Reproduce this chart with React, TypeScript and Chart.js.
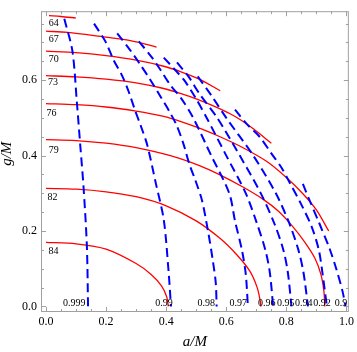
import React, { useEffect, useRef } from "react";
import { Chart, registerables } from "chart.js";

Chart.register(...registerables);

// Red solid contours: [a/M, g/M] points
const red64: number[][] = [[0.01, 0.771], [0.05, 0.769], [0.099, 0.765]];
const red67: number[][] = [[0, 0.73], [0.072, 0.727], [0.182, 0.716], [0.281, 0.705], [0.368, 0.688]];
const red70: number[][] = [[0, 0.677], [0.1, 0.673], [0.2, 0.665], [0.3, 0.653], [0.392, 0.637], [0.447, 0.623], [0.51, 0.603], [0.58, 0.572]];
const red73: number[][] = [[0, 0.612], [0.1, 0.609], [0.2, 0.603], [0.3, 0.593], [0.392, 0.578], [0.447, 0.565], [0.502, 0.55], [0.557, 0.532], [0.613, 0.511], [0.651, 0.493], [0.69, 0.471], [0.75, 0.433]];
const red76: number[][] = [[0, 0.538], [0.1, 0.535], [0.2, 0.529], [0.3, 0.518], [0.392, 0.504], [0.447, 0.491], [0.513, 0.472], [0.579, 0.45], [0.651, 0.423], [0.734, 0.385], [0.8, 0.342], [0.855, 0.299], [0.9, 0.256], [0.941, 0.2]];
const red79: number[][] = [[0, 0.4425], [0.1, 0.44], [0.2, 0.433], [0.3, 0.421], [0.414, 0.4], [0.513, 0.373], [0.579, 0.349], [0.657, 0.316], [0.723, 0.284], [0.773, 0.253], [0.82, 0.213], [0.86, 0.172], [0.895, 0.128], [0.915, 0.085], [0.925, 0.04], [0.928, 0]];
const red82: number[][] = [[0, 0.313], [0.1, 0.311], [0.2, 0.304], [0.3, 0.291], [0.4, 0.267], [0.5, 0.227], [0.58, 0.18], [0.635, 0.137], [0.679, 0.093], [0.703, 0.05], [0.713, 0.015], [0.715, 0]];
const red84: number[][] = [[0, 0.17], [0.1, 0.166], [0.2, 0.152], [0.3, 0.114], [0.35, 0.085], [0.385, 0.054], [0.402, 0.025], [0.407, 0]];

// Blue dashed contours
const blue0999: number[][] = [[0.061, 0.763], [0.088, 0.677], [0.103, 0.539], [0.114, 0.428], [0.125, 0.316], [0.136, 0.162], [0.14, 0]];
const blue099: number[][] = [[0.16, 0.75], [0.199, 0.701], [0.224, 0.655], [0.254, 0.611], [0.276, 0.568], [0.296, 0.521], [0.315, 0.48], [0.337, 0.428], [0.366, 0.325], [0.392, 0.23], [0.408, 0.093], [0.416, 0]];
const blue098: number[][] = [[0.237, 0.724], [0.28, 0.68], [0.315, 0.64], [0.348, 0.6], [0.381, 0.557], [0.41, 0.518], [0.435, 0.48], [0.458, 0.43], [0.477, 0.378], [0.497, 0.335], [0.519, 0.282], [0.541, 0.192], [0.555, 0.123], [0.565, 0.063], [0.568, 0]];
const blue097: number[][] = [[0.309, 0.703], [0.351, 0.662], [0.378, 0.631], [0.414, 0.587], [0.45, 0.552], [0.49, 0.5], [0.55, 0.4], [0.61, 0.3], [0.629, 0.227], [0.652, 0.15], [0.665, 0.085], [0.672, 0]];
const blue096: number[][] = [[0.392, 0.66], [0.43, 0.627], [0.46, 0.6], [0.5, 0.55], [0.535, 0.5], [0.6, 0.4], [0.665, 0.3], [0.7, 0.225], [0.73, 0.15], [0.745, 0.09], [0.756, 0]];
const blue095: number[][] = [[0.436, 0.647], [0.474, 0.61], [0.51, 0.565], [0.57, 0.5], [0.645, 0.4], [0.715, 0.3], [0.76, 0.22], [0.79, 0.15], [0.805, 0.09], [0.817, 0]];
const blue094: number[][] = [[0.505, 0.61], [0.55, 0.56], [0.6, 0.5], [0.69, 0.4], [0.765, 0.3], [0.81, 0.22], [0.84, 0.15], [0.857, 0.09], [0.872, 0]];
const blue092: number[][] = [[0.629, 0.522], [0.668, 0.484], [0.712, 0.449], [0.75, 0.406], [0.784, 0.368], [0.81, 0.33], [0.85, 0.27], [0.885, 0.21], [0.908, 0.15], [0.92, 0.09], [0.935, 0]];
const blue090: number[][] = [[0.855, 0.325], [0.877, 0.282], [0.91, 0.22], [0.944, 0.153], [0.966, 0.1], [0.987, 0.04], [0.997, 0]];

const redCurves = [red64, red67, red70, red73, red76, red79, red82, red84];
const blueCurves = [blue0999, blue099, blue098, blue097, blue096, blue095, blue094, blue092, blue090];

// Contour labels and their anchor points (data coordinates)
const redLabelTexts = ["64", "67", "70", "73", "76", "79", "82", "84"];
const redLabelA = [0.026, 0.026, 0.026, 0.023, 0.018, 0.026, 0.022, 0.025];
const redLabelG = [0.75, 0.709, 0.655, 0.593, 0.513, 0.415, 0.289, 0.147];
const blueLabelTexts = ["0.999", "0.99", "0.98", "0.97", "0.96", "0.95", "0.94", "0.92", "0.9"];
const blueLabelA = [0.094, 0.393, 0.533, 0.64, 0.735, 0.798, 0.858, 0.919, 0.982];
const blueLabelG = [0.009, 0.009, 0.009, 0.009, 0.009, 0.009, 0.009, 0.009, 0.009];

// Axis ranges, tick values, titles
const xRange = [-0.0166, 1.008];
const yRange = [-0.0147, 0.783];
const xMajor = [0, 0.2, 0.4, 0.6, 0.8, 1.0];
const yMajor = [0, 0.2, 0.4, 0.6];
const xMinor = [0.05, 0.1, 0.15, 0.25, 0.3, 0.35, 0.45, 0.5, 0.55, 0.65, 0.7, 0.75, 0.85, 0.9, 0.95];
const yMinor = [0.05, 0.1, 0.15, 0.25, 0.3, 0.35, 0.45, 0.5, 0.55, 0.65, 0.7, 0.75];
const xTitle = "a/M";
const yTitle = "g/M";
const yTitleAt = 0.405;

const SERIF = '"Liberation Serif", "DejaVu Serif", serif';

const framePlugin = {
  id: "framePlugin",
  afterDatasetsDraw(chart: any) {
    const { ctx, chartArea: ca } = chart;
    const xs = chart.scales.x;
    const ys = chart.scales.y;
    ctx.save();
    // contour labels
    ctx.fillStyle = "#000";
    ctx.font = `10px ${SERIF}`;
    ctx.textAlign = "center";
    ctx.textBaseline = "middle";
    redLabelTexts.forEach((t, i) => {
      ctx.fillText(t, xs.getPixelForValue(redLabelA[i]), ys.getPixelForValue(redLabelG[i]));
    });
    blueLabelTexts.forEach((t, i) => {
      ctx.fillText(t, xs.getPixelForValue(blueLabelA[i]), ys.getPixelForValue(blueLabelG[i]));
    });
    // y axis title
    ctx.save();
    ctx.font = `italic 15px ${SERIF}`;
    ctx.translate(7.5, ys.getPixelForValue(yTitleAt));
    ctx.rotate(-Math.PI / 2);
    ctx.fillText(yTitle, 0, 0);
    ctx.restore();
    // frame
    ctx.strokeStyle = "#a0a0a0";
    ctx.lineWidth = 1;
    ctx.strokeRect(ca.left + 0.5, ca.top + 0.5, ca.right - ca.left - 1, ca.bottom - ca.top - 1);
    const tickX = (v: number, len: number) => {
      const p = Math.round(xs.getPixelForValue(v)) + 0.5;
      ctx.beginPath();
      ctx.moveTo(p, ca.bottom);
      ctx.lineTo(p, ca.bottom - len);
      ctx.moveTo(p, ca.top);
      ctx.lineTo(p, ca.top + len);
      ctx.stroke();
    };
    const tickY = (v: number, len: number) => {
      const p = Math.round(ys.getPixelForValue(v)) + 0.5;
      ctx.beginPath();
      ctx.moveTo(ca.left, p);
      ctx.lineTo(ca.left + len, p);
      ctx.moveTo(ca.right, p);
      ctx.lineTo(ca.right - len, p);
      ctx.stroke();
    };
    xMajor.forEach((v) => tickX(v, 5));
    xMinor.forEach((v) => tickX(v, 3));
    yMajor.forEach((v) => tickY(v, 5));
    yMinor.forEach((v) => tickY(v, 3));
    ctx.restore();
  },
};

export default function App() {
  const ref = useRef<HTMLCanvasElement | null>(null);
  useEffect(() => {
    if (!ref.current) return;
    const toPts = (c: number[][]) => c.map(([a, g]) => ({ x: a, y: g }));
    const datasets: any[] = [];
    blueCurves.forEach((c, i) =>
      datasets.push({
        label: blueLabelTexts[i],
        data: toPts(c),
        showLine: true,
        pointRadius: 0,
        borderColor: "rgb(0,0,255)",
        borderWidth: 2,
        borderDash: [9, 5],
        tension: 0.3,
        fill: false,
      })
    );
    redCurves.forEach((c, i) =>
      datasets.push({
        label: redLabelTexts[i],
        data: toPts(c),
        showLine: true,
        pointRadius: 0,
        borderColor: "rgb(255,0,0)",
        borderWidth: 1.3,
        tension: 0.3,
        fill: false,
      })
    );
    const chart = new Chart(ref.current, {
      type: "scatter",
      data: { datasets },
      options: {
        animation: false,
        responsive: false,
        maintainAspectRatio: false,
        layout: { padding: { top: 2, right: 7, left: 0, bottom: 0 } },
        plugins: { legend: { display: false }, tooltip: { enabled: false } },
        scales: {
          x: {
            type: "linear",
            min: xRange[0],
            max: xRange[1],
            grid: { display: false, drawTicks: false },
            border: { display: false },
            ticks: {
              stepSize: 0.2,
              includeBounds: false,
              autoSkip: false,
              maxRotation: 0,
              padding: 3,
              color: "#000",
              font: { family: SERIF, size: 12 },
              callback: (v: any) => Number(v).toFixed(1),
            },
            title: {
              display: true,
              text: xTitle,
              color: "#000",
              font: { family: SERIF, size: 15, style: "italic", lineHeight: 1 },
              padding: { top: 0, bottom: 2 },
            },
            afterFit: (s: any) => {
              s.height = 40;
            },
          },
          y: {
            type: "linear",
            min: yRange[0],
            max: yRange[1],
            grid: { display: false, drawTicks: false },
            border: { display: false },
            ticks: {
              stepSize: 0.2,
              includeBounds: false,
              autoSkip: false,
              padding: 4,
              color: "#000",
              font: { family: SERIF, size: 12 },
              callback: (v: any) => Number(v).toFixed(1),
            },
            title: { display: false },
            afterFit: (s: any) => {
              s.width = 41;
            },
          },
        },
      },
      plugins: [framePlugin],
    });
    return () => chart.destroy();
  }, []);
  return (
    <div style={{ position: "fixed", left: 0, top: 0, width: 357, height: 352, background: "#fff" }}>
      <canvas ref={ref} width={357} height={352} style={{ width: 357, height: 352 }} />
    </div>
  );
}
